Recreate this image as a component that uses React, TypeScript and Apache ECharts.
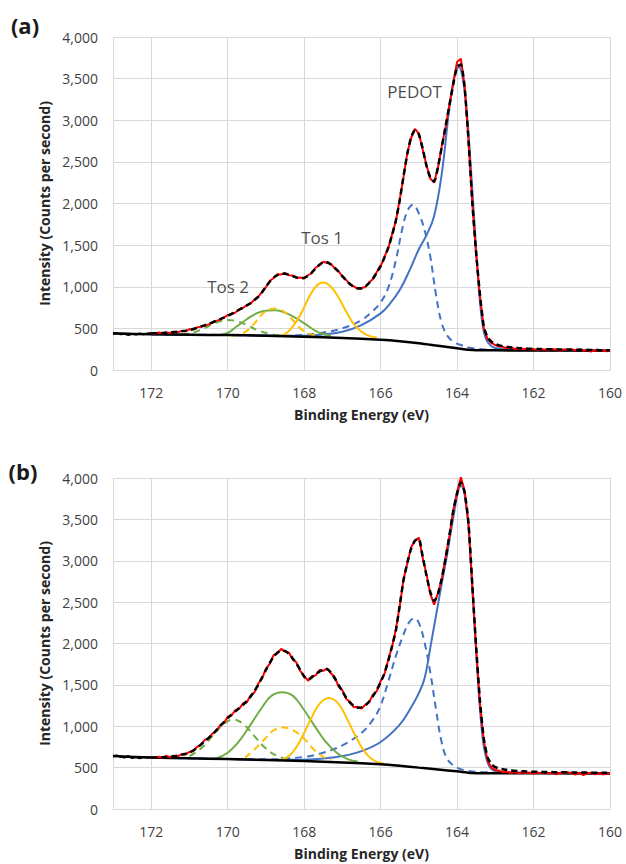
import React, { useEffect, useRef } from 'react';
import * as echarts from 'echarts';

// ---------- axes ----------
const X_MIN = 160;
const X_MAX = 173;
const X_STEP = 2;
const Y_MIN = 0;
const Y_MAX = 4000;
const Y_STEP = 500;
const X_TITLE = 'Binding Energy (eV)';
const Y_TITLE = 'Intensity (Counts per second)';

// energy grids (x positions of the measured points)
const E_GRID = Array.from({ length: 121 }, (_, i) => Math.round((172 - i * 0.1) * 10) / 10);
const E_LEFT = Array.from({ length: 11 }, (_, i) => Math.round((173 - i * 0.1) * 10) / 10);

// ---------- panel (a) ----------
const RAW_LEFT_A = [432, 440, 428, 436, 420, 434, 425, 438, 428, 440, 445];
const RAW_A = [
  445, 432, 450, 438, 452, 444, 462, 455, 470, 465,
  490, 485, 512, 520, 530, 548, 566, 590, 605, 628,
  660, 668, 690, 730, 745, 780, 798, 845, 878, 940,
  995, 1068, 1105, 1150, 1148, 1165, 1138, 1135, 1105, 1110,
  1100, 1138, 1165, 1228, 1258, 1300, 1285, 1275, 1220, 1188,
  1120, 1082, 1025, 1005, 975, 985, 998, 1050, 1092, 1178,
  1245, 1360, 1462, 1630, 1790, 2050, 2320, 2610, 2790, 2895,
  2840, 2650, 2460, 2300, 2250, 2430, 2690, 2920, 3190, 3450,
  3700, 3740, 3400, 2740, 1990, 1380, 880, 500, 370, 325,
  300, 282, 278, 262, 270, 255, 258, 250, 256, 245,
  252, 240, 250, 246, 238, 252, 244, 230, 248, 240,
  245, 236, 248, 232, 240, 222, 238, 230, 236, 225,
  232,
];
const ENV_A = [
  440, 441, 443, 445, 447, 450, 455, 460, 466, 472,
  480, 492, 506, 522, 538, 555, 573, 592, 611, 630,
  650, 673, 698, 724, 750, 775, 805, 840, 880, 935,
  1000, 1060, 1110, 1140, 1155, 1155, 1145, 1128, 1112, 1103,
  1108, 1130, 1170, 1220, 1265, 1292, 1293, 1268, 1228, 1180,
  1128, 1075, 1032, 1000, 982, 980, 1005, 1045, 1100, 1170,
  1250, 1350, 1470, 1620, 1800, 2040, 2330, 2600, 2800, 2880,
  2830, 2660, 2450, 2310, 2265, 2440, 2680, 2930, 3180, 3430,
  3640, 3670, 3380, 2750, 2000, 1400, 900, 520, 390, 340,
  312, 296, 286, 278, 272, 267, 263, 260, 257, 255,
  253, 252, 251, 250, 250, 249, 248, 247, 246, 246,
  245, 244, 243, 242, 242, 241, 240, 239, 238, 238,
  237,
];
const BG_A = [[173, 440], [172, 428], [171, 423], [170, 420], [169, 412], [168, 400], [167, 385], [166, 362], [165.5, 345], [165, 322], [164.5, 292], [164, 262], [163.7, 244], [163.5, 238], [163, 236], [162, 234], [161, 233], [160, 232]];
const PEDOT_A = [[172, 428], [171, 423], [170, 420], [169, 413], [168, 412], [167.5, 428], [167, 460], [166.5, 540], [166, 680], [165.75, 800], [165.5, 960], [165.25, 1190], [165, 1450], [164.8, 1620], [164.6, 1850], [164.4, 2360], [164.2, 3150], [164.05, 3560], [163.95, 3640], [163.85, 3500], [163.75, 3120], [163.65, 2500], [163.55, 1800], [163.45, 1100], [163.35, 600], [163.25, 380], [163.1, 285], [162.9, 255], [162.5, 240], [162, 236], [161, 233], [160, 232]];
const PEDOT2_A = [[172, 428], [170, 420], [169, 413], [168.5, 412], [168, 422], [167.5, 450], [167, 500], [166.5, 600], [166.2, 710], [166, 810], [165.8, 990], [165.6, 1320], [165.45, 1660], [165.3, 1910], [165.15, 1985], [165.0, 1880], [164.85, 1680], [164.7, 1360], [164.55, 900], [164.4, 560], [164.25, 410], [164.1, 340], [163.9, 300], [163.6, 262], [163.2, 246], [162.5, 238], [162, 236], [160, 232]];
const TOS1_A = [[168.7, 405], [168.5, 430], [168.3, 520], [168.1, 660], [167.9, 850], [167.7, 1000], [167.5, 1050], [167.3, 1000], [167.1, 870], [166.9, 700], [166.7, 550], [166.5, 460], [166.3, 410], [166.1, 390]];
const TOS1B_A = [[169.9, 410], [169.7, 425], [169.5, 470], [169.3, 560], [169.1, 670], [168.9, 730], [168.7, 738], [168.5, 690], [168.3, 600], [168.1, 500], [167.9, 440], [167.7, 412]];
const TOS2_A = [[170.2, 422], [170.0, 445], [169.8, 510], [169.5, 610], [169.2, 690], [168.95, 715], [168.75, 718], [168.5, 690], [168.2, 620], [167.9, 530], [167.6, 445], [167.3, 410]];
const TOS2B_A = [[171.2, 425], [170.9, 450], [170.6, 505], [170.3, 570], [170.0, 600], [169.75, 585], [169.5, 540], [169.2, 475], [168.9, 435], [168.6, 415], [168.3, 408]];
const LABELS_A = [
  { text: 'PEDOT', e: 165.11, v: 3350 },
  { text: 'Tos 1', e: 167.53, v: 1586 },
  { text: 'Tos 2', e: 169.99, v: 1000 },
];

// ---------- panel (b) ----------
const RAW_LEFT_B = [635, 648, 630, 622, 640, 615, 628, 612, 630, 618, 628];
const RAW_B = [
  628, 615, 632, 620, 640, 625, 645, 640, 662, 660,
  690, 700, 752, 772, 835, 850, 912, 940, 1010, 1040,
  1115, 1130, 1195, 1210, 1275, 1290, 1372, 1410, 1515, 1580,
  1695, 1755, 1860, 1880, 1935, 1900, 1890, 1810, 1770, 1665,
  1610, 1550, 1605, 1615, 1680, 1670, 1700, 1640, 1595, 1480,
  1435, 1330, 1295, 1230, 1235, 1212, 1262, 1290, 1380, 1425,
  1545, 1630, 1805, 1960, 2175, 2450, 2780, 2970, 3165, 3240,
  3280, 3040, 2835, 2600, 2470, 2610, 2780, 3045, 3300, 3615,
  3830, 4010, 3840, 3440, 2690, 1930, 1270, 820, 580, 500,
  470, 462, 445, 452, 438, 448, 430, 445, 436, 440,
  425, 442, 432, 446, 428, 440, 420, 438, 430, 445,
  432, 415, 440, 410, 428, 438, 420, 432, 418, 426,
  430,
];
const ENV_B = [
  620, 622, 624, 626, 629, 632, 638, 647, 657, 668,
  680, 708, 740, 780, 820, 860, 900, 950, 1000, 1050,
  1100, 1140, 1180, 1220, 1260, 1305, 1360, 1425, 1500, 1590,
  1680, 1765, 1840, 1890, 1915, 1910, 1875, 1820, 1755, 1680,
  1600, 1565, 1590, 1630, 1660, 1685, 1688, 1650, 1580, 1500,
  1420, 1345, 1285, 1245, 1225, 1228, 1250, 1300, 1365, 1440,
  1530, 1640, 1790, 1970, 2160, 2460, 2767, 2980, 3150, 3245,
  3265, 3050, 2820, 2620, 2515, 2600, 2790, 3030, 3310, 3600,
  3815, 3945, 3820, 3450, 2700, 1950, 1300, 850, 620, 540,
  505, 490, 480, 474, 468, 462, 459, 456, 454, 452,
  450, 449, 448, 447, 447, 446, 445, 444, 443, 443,
  442, 441, 441, 440, 440, 439, 439, 438, 438, 437,
  437,
];
const BG_B = [[173, 640], [172, 622], [171, 612], [170, 604], [169, 592], [168, 580], [167, 562], [166, 540], [165.5, 522], [165, 500], [164.5, 478], [164, 455], [163.6, 436], [163.3, 433], [162, 432], [160, 430]];
const PEDOT_B = [[172, 622], [171, 612], [170, 604], [169, 594], [168, 596], [167.5, 610], [167, 640], [166.5, 700], [166, 810], [165.5, 1020], [165.2, 1230], [165, 1400], [164.85, 1580], [164.7, 1950], [164.45, 2600], [164.27, 3050], [164.1, 3520], [163.95, 3880], [163.87, 3900], [163.78, 3720], [163.7, 3400], [163.6, 2650], [163.5, 1900], [163.4, 1200], [163.3, 750], [163.2, 560], [163.1, 480], [162.9, 450], [162.5, 440], [162, 434], [160, 430]];
const PEDOT2_B = [[172, 622], [170, 604], [169, 600], [168, 630], [167.5, 680], [167, 770], [166.5, 920], [166.2, 1080], [166, 1250], [165.8, 1540], [165.6, 1850], [165.4, 2110], [165.25, 2260], [165.12, 2305], [165.0, 2250], [164.85, 2010], [164.7, 1650], [164.55, 1200], [164.4, 800], [164.25, 600], [164.0, 500], [163.7, 460], [163.3, 445], [162, 435], [160, 432]];
const TOS1_B = [[168.6, 592], [168.4, 640], [168.2, 750], [168.0, 920], [167.8, 1110], [167.6, 1270], [167.35, 1340], [167.1, 1270], [166.9, 1110], [166.7, 920], [166.5, 750], [166.3, 630], [166.1, 570], [165.9, 548]];
const TOS1B_B = [[169.55, 620], [169.3, 720], [169.0, 860], [168.8, 950], [168.55, 985], [168.3, 955], [168.0, 850], [167.75, 720], [167.5, 630], [167.3, 590]];
const TOS2_B = [[170.3, 612], [170.0, 680], [169.7, 820], [169.4, 1020], [169.1, 1230], [168.85, 1370], [168.57, 1410], [168.3, 1370], [168.05, 1230], [167.75, 1020], [167.45, 820], [167.15, 680], [166.85, 600], [166.6, 575]];
const TOS2B_B = [[171.0, 640], [170.7, 730], [170.4, 880], [170.1, 1030], [169.85, 1080], [169.6, 1030], [169.3, 880], [169.0, 730], [168.7, 640], [168.4, 600]];

// ---------- styles ----------
const FONT = '"Open Sans", "Noto Sans", sans-serif';
const RED = '#ff0000';
const BLUE = '#4472c4';
const GREEN = '#70ad47';
const YELLOW = '#ffc000';
const GRIDC = '#d9d9d9';
const TEXTC = '#3f3f3f';

const zip = (xs: number[], ys: number[]) => xs.map((x, i) => [x, ys[i]]);

function panelSeries(gi: number, p: any) {
  const base = { type: 'line', xAxisIndex: gi, yAxisIndex: gi, showSymbol: false, symbol: 'none', silent: true };
  const dash = [7, 5];
  return [
    { ...base, data: p.pedot2, smooth: 0.4, lineStyle: { color: BLUE, width: 2, type: dash } },
    { ...base, data: p.pedot, smooth: 0.4, lineStyle: { color: BLUE, width: 2 } },
    { ...base, data: p.tos2b, smooth: 0.4, lineStyle: { color: GREEN, width: 2, type: dash } },
    { ...base, data: p.tos2, smooth: 0.4, lineStyle: { color: GREEN, width: 2 } },
    { ...base, data: p.tos1b, smooth: 0.4, lineStyle: { color: YELLOW, width: 2, type: dash } },
    { ...base, data: p.tos1, smooth: 0.4, lineStyle: { color: YELLOW, width: 2 } },
    { ...base, data: p.bg, smooth: 0.3, lineStyle: { color: '#000', width: 2.5 } },
    { ...base, data: zip(E_LEFT, p.rawLeft), lineStyle: { color: '#000', width: 2 } },
    { ...base, data: zip(E_GRID, p.raw), lineStyle: { color: RED, width: 2 } },
    { ...base, data: zip(E_GRID, p.env), smooth: 0.2, lineStyle: { color: '#000', width: 2.5, type: [6, 4] } },
    {
      type: 'scatter', xAxisIndex: gi, yAxisIndex: gi, symbolSize: 0, silent: true,
      data: (p.labels || []).map((l: any) => ({ value: [l.e, l.v], label: { formatter: l.text } })),
      label: { show: true, position: 'inside', fontSize: 17, color: '#1a1a1a', fontFamily: FONT },
    },
  ];
}

function xAxis(gi: number) {
  return {
    type: 'value', gridIndex: gi, min: X_MIN, max: X_MAX, interval: X_STEP, inverse: true,
    name: X_TITLE, nameLocation: 'middle', nameGap: 37,
    nameTextStyle: { fontFamily: FONT, fontSize: 14, fontWeight: 'bold', color: '#262626' },
    axisLine: { show: true, lineStyle: { color: GRIDC, width: 1 } },
    axisTick: { show: false },
    axisLabel: {
      margin: 15, fontFamily: FONT, fontSize: 14, color: TEXTC,
      formatter: (v: number) => (v === X_MAX ? '' : String(v)),
    },
    splitLine: { show: true, lineStyle: { color: GRIDC, width: 1 } },
  };
}

function yAxis(gi: number) {
  return {
    type: 'value', gridIndex: gi, min: Y_MIN, max: Y_MAX, interval: Y_STEP,
    name: Y_TITLE, nameLocation: 'middle', nameGap: 59, nameRotate: 90,
    nameTextStyle: { fontFamily: FONT, fontSize: 14, fontWeight: 'bold', color: '#262626' },
    axisLine: { show: false },
    axisTick: { show: false },
    axisLabel: {
      margin: 15, fontFamily: FONT, fontSize: 14, color: TEXTC,
      formatter: (v: number) => v.toLocaleString('en-US'),
    },
    splitLine: { show: true, lineStyle: { color: GRIDC, width: 1 } },
  };
}

export default function App() {
  const ref = useRef<HTMLDivElement>(null);
  useEffect(() => {
    if (!ref.current) return;
    const chart = echarts.init(ref.current, undefined, { renderer: 'svg' });
    const pA = { raw: RAW_A, rawLeft: RAW_LEFT_A, env: ENV_A, bg: BG_A, pedot: PEDOT_A, pedot2: PEDOT2_A, tos1: TOS1_A, tos1b: TOS1B_A, tos2: TOS2_A, tos2b: TOS2B_A, labels: LABELS_A };
    const pB = { raw: RAW_B, rawLeft: RAW_LEFT_B, env: ENV_B, bg: BG_B, pedot: PEDOT_B, pedot2: PEDOT2_B, tos1: TOS1_B, tos1b: TOS1B_B, tos2: TOS2_B, tos2b: TOS2B_B, labels: [] };
    chart.setOption({
      animation: false,
      backgroundColor: '#ffffff',
      grid: [
        { left: 113, top: 37, width: 497, height: 333 },
        { left: 113, top: 478, width: 497, height: 331 },
      ],
      xAxis: [xAxis(0), xAxis(1)],
      yAxis: [yAxis(0), yAxis(1)],
      graphic: [
        { type: 'text', x: 25, y: 25, style: { text: '(a)', font: `bold 22px ${FONT}`, fill: '#1a1a1a', align: 'center', verticalAlign: 'middle' } },
        { type: 'text', x: 23, y: 471, style: { text: '(b)', font: `bold 22px ${FONT}`, fill: '#1a1a1a', align: 'center', verticalAlign: 'middle' } },
      ],
      series: [...panelSeries(0, pA), ...panelSeries(1, pB)],
    });
    return () => chart.dispose();
  }, []);
  return <div ref={ref} style={{ position: 'fixed', left: 0, top: 0, width: 626, height: 864, background: '#fff' }} />;
}
